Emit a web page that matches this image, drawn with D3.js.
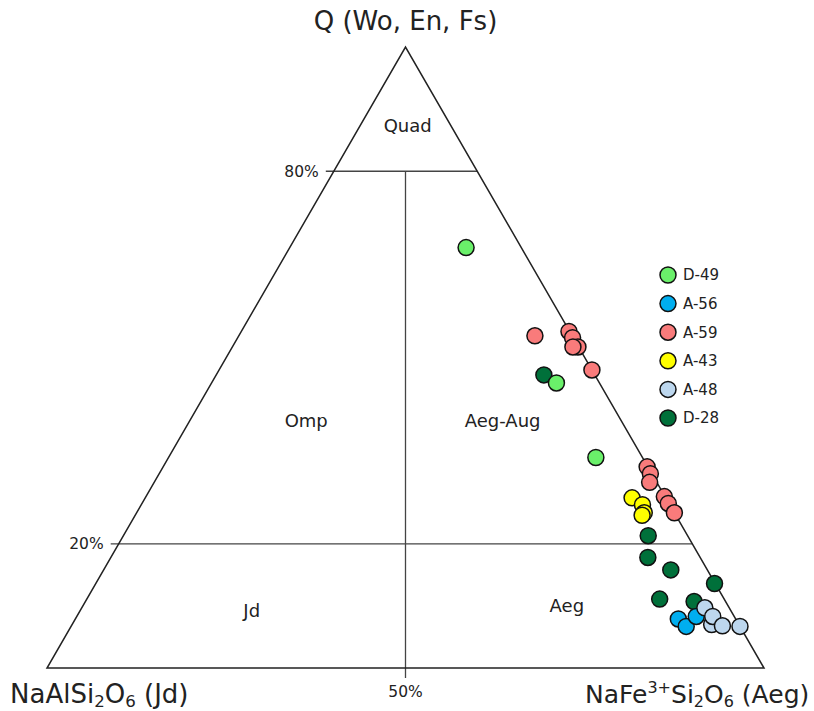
<!DOCTYPE html>
<html>
<head>
<meta charset="utf-8">
<script src="https://cdn.jsdelivr.net/npm/d3@7"></script>
<style>
  html, body { margin: 0; padding: 0; background: #fff; }
  svg { display: block; font-family: "DejaVu Sans", sans-serif; }
</style>
</head>
<body>
<svg id="chart" width="814" height="711"></svg>
<script>
// Pyroxene compositions, each as [Q, Jd, Aeg] in percent
const sampleNames = ["D-49", "A-56", "A-59", "A-43", "A-48", "D-28"];
const sampleColors = ["#6af06a", "#00aeef", "#f97b7b", "#ffff00", "#bdd7ee", "#00703a"];

const d49 = [
  [67.7, 7.7, 24.6],
  [45.9, 6.0, 48.1],
  [33.9, 6.5, 59.6]
];
const a56 = [
  [7.9, 8.0, 84.1],
  [6.7, 7.5, 85.8],
  [8.3, 5.3, 86.4]
];
const a59 = [
  [53.5, 5.2, 41.3],
  [54.2, 0.1, 45.7],
  [53.2, 0.1, 46.7],
  [51.7, 0.1, 48.2],
  [51.7, 0.8, 47.5],
  [48.0, 0.0, 52.0],
  [32.4, 0.1, 67.5],
  [31.3, 0.2, 68.5],
  [29.9, 1.0, 69.1],
  [27.6, 0.1, 72.3],
  [26.5, 0.1, 73.4],
  [25.0, 0.0, 75.0]
];
const a43 = [
  [27.4, 4.7, 67.9],
  [26.3, 3.8, 69.9],
  [25.0, 4.2, 70.8],
  [24.6, 4.7, 70.7]
];
const a48 = [
  [7.0, 3.8, 89.2],
  [9.7, 3.4, 86.9],
  [8.3, 3.0, 88.7],
  [6.8, 2.4, 90.8],
  [6.7, 0.0, 93.3]
];
const d28 = [
  [47.2, 7.1, 45.7],
  [21.3, 5.5, 73.2],
  [17.8, 7.3, 74.9],
  [15.8, 5.1, 79.1],
  [13.6, 0.1, 86.3],
  [11.1, 9.0, 79.9],
  [10.7, 4.4, 84.9]
];
const sampleData = { "D-49": d49, "A-56": a56, "A-59": a59, "A-43": a43, "A-48": a48, "D-28": d28 };
// stacking order of the groups (later groups sit on top)
const drawOrder = ["D-28", "A-56", "A-59", "A-43", "A-48", "D-49"];

// field boundaries and labels
const qLevels = [80, 20];
const qTickLabels = ["80%", "20%"];
const baseTickLabel = "50%";
const fieldLabels = [
  { text: "Quad", q: 87.4, aeg: 6.6 },
  { text: "Omp", q: 39.9, aeg: 16.2 },
  { text: "Aeg-Aug", q: 39.9, aeg: 43.6 },
  { text: "Jd", q: 9.3, aeg: 23.9 },
  { text: "Aeg", q: 10.0, aeg: 67.5 }
];

const svg = d3.select("#chart");

// Ternary frame: horizontal position follows Aeg + Q/2, vertical follows Q
const left = 47, right = 764, base = 668;
const side = right - left;
const apexY = base - side * Math.sqrt(3) / 2;
const x = d3.scaleLinear().domain([0, 100]).range([left, right]);
const y = d3.scaleLinear().domain([0, 100]).range([base, apexY]);
const px = (q, aeg) => x(aeg + q / 2);
const py = q => y(q);

const ink = "#222";
const g = svg.append("g");

// inner boundaries
qLevels.forEach((q, i) => {
  const xl = px(q, 0), xr = px(q, 100 - q);
  g.append("line")
    .attr("x1", xl - 8).attr("x2", xr)
    .attr("y1", py(q)).attr("y2", py(q))
    .attr("stroke", "#444").attr("stroke-width", 1.3);
  g.append("text")
    .attr("x", xl - 15).attr("y", py(q))
    .attr("dy", "0.36em")
    .attr("text-anchor", "end")
    .attr("font-size", 15.5)
    .attr("fill", ink)
    .text(qTickLabels[i]);
});

// Jd = Aeg divide, from the base up to the Quad field
g.append("line")
  .attr("x1", px(0, 50)).attr("x2", px(0, 50))
  .attr("y1", py(80)).attr("y2", py(0) + 10)
  .attr("stroke", "#444").attr("stroke-width", 1.3);
g.append("text")
  .attr("x", px(0, 50)).attr("y", py(0) + 29)
  .attr("text-anchor", "middle")
  .attr("font-size", 15.5)
  .attr("fill", ink)
  .text(baseTickLabel);

// outer triangle
const corners = [[0, 0], [0, 100], [100, 0]].map(([q, aeg]) => [px(q, aeg), py(q)]);
g.append("path")
  .attr("d", d3.line()(corners) + "Z")
  .attr("fill", "none")
  .attr("stroke", ink)
  .attr("stroke-width", 1.5)
  .attr("stroke-linejoin", "miter");

// field names
g.selectAll("text.field")
  .data(fieldLabels)
  .join("text")
  .attr("class", "field")
  .attr("x", d => px(d.q, d.aeg))
  .attr("y", d => py(d.q))
  .attr("dy", "0.36em")
  .attr("text-anchor", "middle")
  .attr("font-size", 18)
  .attr("fill", ink)
  .text(d => d.text);

// apex and corner titles
svg.append("text")
  .attr("x", px(100, 0)).attr("y", 30)
  .attr("text-anchor", "middle")
  .attr("font-size", 26)
  .attr("fill", ink)
  .text("Q (Wo, En, Fs)");

function chemLabel(xPos, size, parts) {
  const t = svg.append("text")
    .attr("x", xPos).attr("y", 703)
    .attr("font-size", size)
    .attr("fill", ink);
  parts.forEach(([s, kind]) => {
    const span = t.append("tspan").text(s);
    if (kind === "sub") span.attr("font-size", size * 0.64).attr("baseline-shift", "-4");
    if (kind === "sup") span.attr("font-size", size * 0.64).attr("baseline-shift", "10");
  });
}
chemLabel(10, 26, [["NaAlSi", ""], ["2", "sub"], ["O", ""], ["6", "sub"], [" (Jd)", ""]]);
chemLabel(585, 25, [["NaFe", ""], ["3+", "sup"], ["Si", ""], ["2", "sub"], ["O", ""], ["6", "sub"], [" (Aeg)", ""]]);

// analyses
const color = d3.scaleOrdinal().domain(sampleNames).range(sampleColors);
const pts = svg.append("g");
drawOrder.forEach(name => {
  pts.append("g")
    .selectAll("circle")
    .data(sampleData[name])
    .join("circle")
    .attr("cx", d => px(d[0], d[2]))
    .attr("cy", d => py(d[0]))
    .attr("r", 8)
    .attr("fill", color(name))
    .attr("stroke", "#111")
    .attr("stroke-width", 1.5);
});

// legend
const legend = svg.append("g").attr("transform", "translate(668,275)");
const row = legend.selectAll("g")
  .data(sampleNames)
  .join("g")
  .attr("transform", (d, i) => `translate(0,${i * 28.6})`);
row.append("circle")
  .attr("r", 8)
  .attr("fill", d => color(d))
  .attr("stroke", "#111")
  .attr("stroke-width", 1.5);
row.append("text")
  .attr("x", 15)
  .attr("dy", "0.36em")
  .attr("font-size", 15)
  .attr("fill", ink)
  .text(d => d);
</script>
</body>
</html>
